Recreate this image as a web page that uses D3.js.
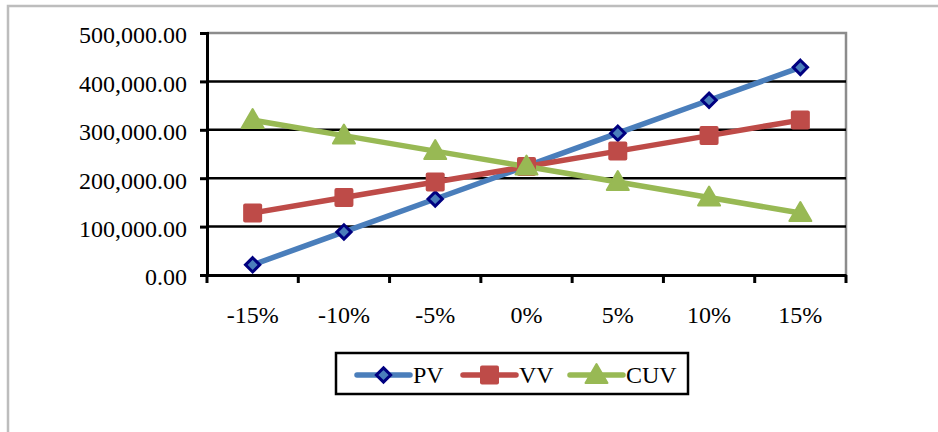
<!DOCTYPE html>
<html>
<head>
<meta charset="utf-8">
<script src="https://cdn.jsdelivr.net/npm/d3@7"></script>
<style>
  html, body { margin: 0; padding: 0; background: #fff; }
  svg { display: block; }
</style>
</head>
<body>
<svg id="chart" width="938" height="432"></svg>
<script>
// Sensitivity of three values against percentage change
const categories = ["-15%", "-10%", "-5%", "0%", "5%", "10%", "15%"];
const pv  = [21000, 89000, 157000, 225000, 293000, 361000, 429000];
const vv  = [128000, 160000, 192000, 224000, 256000, 288000, 320000];
const cuv = [320000, 288000, 256000, 224000, 192000, 160000, 128000];
const yTicks = [0, 100000, 200000, 300000, 400000, 500000];

const series = [
  { name: "PV",  values: pv,  color: "#4a7ebb", marker: "diamond" },
  { name: "VV",  values: vv,  color: "#be4b48", marker: "square" },
  { name: "CUV", values: cuv, color: "#98b954", marker: "triangle" }
];

const FONT = "'Liberation Serif', 'Times New Roman', serif";
const svg = d3.select("#chart");
const plot = { left: 207, right: 846, top: 33, bottom: 275 };

// outer frame (top and left edges visible)
svg.append("path")
  .attr("d", "M8,432 L8,6 L938,6")
  .attr("fill", "none").attr("stroke", "#bdbdbd").attr("stroke-width", 2.5);

const x = d3.scaleBand().domain(categories).range([plot.left, plot.right]);
const y = d3.scaleLinear().domain([0, 500000]).range([plot.bottom, plot.top]);

// plot area border (top and right)
svg.append("path")
  .attr("d", `M${plot.left},${plot.top} L${plot.right},${plot.top} L${plot.right},${plot.bottom}`)
  .attr("fill", "none").attr("stroke", "#8c8c8c").attr("stroke-width", 2.5);

// gridlines
svg.append("g").selectAll("line")
  .data(yTicks.filter(d => d > 0 && d < 500000))
  .join("line")
  .attr("x1", plot.left).attr("x2", plot.right)
  .attr("y1", d => y(d)).attr("y2", d => y(d))
  .attr("stroke", "#000").attr("stroke-width", 2.5);

// y axis
const fmt = d3.format(",.2f");
const yAxis = svg.append("g")
  .attr("transform", `translate(${plot.left},0)`)
  .call(d3.axisLeft(y).tickValues(yTicks).tickFormat(fmt).tickSize(7).tickPadding(13))
  .attr("font-family", FONT).attr("font-size", 24);
yAxis.select(".domain").attr("stroke", "#000").attr("stroke-width", 3);
yAxis.selectAll(".tick line").attr("stroke", "#000").attr("stroke-width", 3);
yAxis.selectAll(".tick text").attr("fill", "#000").attr("dy", "0.41em");

// x axis with tick marks on category boundaries
const xAxis = svg.append("g")
  .attr("transform", `translate(0,${plot.bottom})`)
  .call(d3.axisBottom(x).tickSize(0).tickPadding(31))
  .attr("font-family", FONT).attr("font-size", 24);
xAxis.select(".domain").attr("stroke", "#000").attr("stroke-width", 3);
xAxis.selectAll(".tick text").attr("fill", "#000");
const bounds = categories.map(c => x(c)).concat([x(categories[categories.length - 1]) + x.bandwidth()]);
xAxis.selectAll(".bound").data(bounds).join("line")
  .attr("class", "bound")
  .attr("x1", d => d).attr("x2", d => d)
  .attr("y1", 0).attr("y2", 8)
  .attr("stroke", "#000").attr("stroke-width", 3);

const cx = c => x(c) + x.bandwidth() / 2;

function drawMarker(g, type, color) {
  if (type === "diamond") {
    g.append("path")
      .attr("d", d3.symbol(d3.symbolDiamond2, 130)())
      .attr("fill", color).attr("stroke", "#000080").attr("stroke-width", 3);
  } else if (type === "square") {
    g.append("rect")
      .attr("x", -9.5).attr("y", -9.5).attr("width", 19).attr("height", 19)
      .attr("rx", 2).attr("fill", color);
  } else {
    g.append("path")
      .attr("d", "M0,-11 L11,8 L-11,8 Z")
      .attr("fill", color).attr("stroke", color).attr("stroke-width", 2).attr("stroke-linejoin", "round");
  }
}

const line = d3.line().x((d, i) => cx(categories[i])).y(d => y(d));

series.forEach(s => {
  svg.append("path")
    .datum(s.values)
    .attr("d", line)
    .attr("fill", "none").attr("stroke", s.color)
    .attr("stroke-width", 5.5).attr("stroke-linejoin", "round").attr("stroke-linecap", "round");
});
series.forEach(s => {
  s.values.forEach((v, i) => {
    const g = svg.append("g").attr("transform", `translate(${cx(categories[i])},${y(v)})`);
    drawMarker(g, s.marker, s.color);
  });
});

// legend
const legend = svg.append("g");
legend.append("rect")
  .attr("x", 336).attr("y", 353).attr("width", 352).attr("height", 41)
  .attr("fill", "#fff").attr("stroke", "#000").attr("stroke-width", 2.5);
const legendX = [357, 463, 570];
series.forEach((s, i) => {
  const g = legend.append("g").attr("transform", `translate(${legendX[i]},375)`);
  g.append("line").attr("x1", 0).attr("x2", 53).attr("y1", 0).attr("y2", 0)
    .attr("stroke", s.color).attr("stroke-width", 5.5).attr("stroke-linecap", "round");
  const m = g.append("g").attr("transform", "translate(26.5,0)");
  drawMarker(m, s.marker, s.color);
  g.append("text").attr("x", 56).attr("y", 8)
    .attr("font-family", FONT).attr("font-size", 24).attr("fill", "#000").text(s.name);
});
</script>
</body>
</html>
